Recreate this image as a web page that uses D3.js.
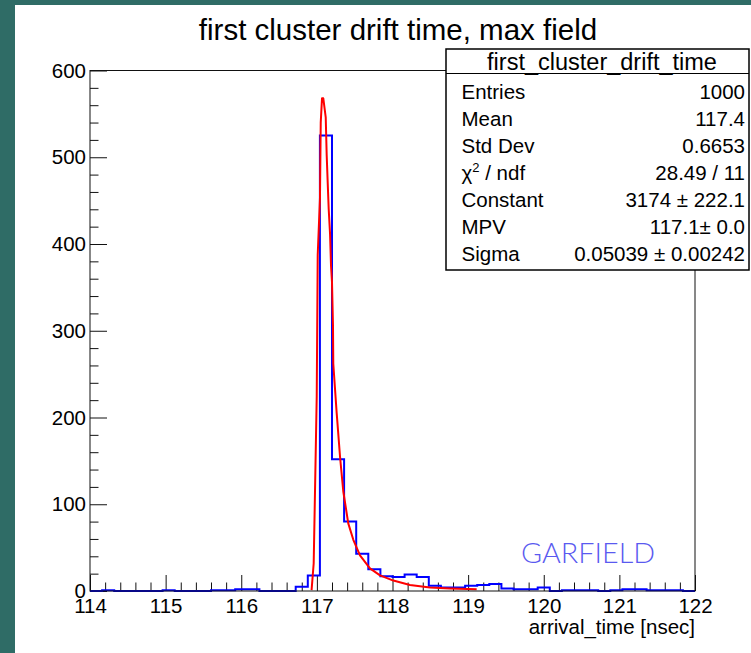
<!DOCTYPE html>
<html>
<head>
<meta charset="utf-8">
<script src="https://cdn.jsdelivr.net/npm/d3@7"></script>
<style>
  html, body { margin: 0; padding: 0; background: #2f6c66; }
  svg { display: block; }
</style>
</head>
<body>
<svg id="chart" width="751" height="653"></svg>
<script>
// ---------- data ----------
const title = "first cluster drift time, max field";
const xTitle = "arrival_time [nsec]";
const xDomain = [114, 122];
const yDomain = [0, 600];
const xMajorTicks = [114, 115, 116, 117, 118, 119, 120, 121, 122];
const yMajorTicks = [0, 100, 200, 300, 400, 500, 600];
// histogram bin contents (50 bins, 114 -> 122)
const counts = [
  0, 1, 0, 0, 0, 0, 1, 0, 0, 0,
  1, 1, 2, 2, 0, 0, 0, 5, 18, 525,
  152, 80, 43, 25, 17, 16, 19, 16, 6, 4,
  4, 6, 7, 8, 3, 2, 2, 4, 0, 1,
  1, 1, 0, 1, 2, 2, 1, 1, 1, 0
];
// fitted curve
const fitX = [116.93, 116.958, 116.998, 117.011, 117.041, 117.051, 117.068, 117.085, 117.117, 117.130,
  117.143, 117.156, 117.174, 117.187, 117.200, 117.213, 117.217, 117.262, 117.306, 117.349,
  117.415, 117.482, 117.570, 117.702, 117.835, 118.011, 118.231, 118.496, 118.760, 119.113];
const fitY = [1, 32, 224, 387, 453, 540, 568, 568, 546, 502,
  471, 441, 412, 375, 356, 306, 262, 205, 155, 115,
  78, 59, 41, 26, 18, 12, 7, 4, 3, 2];
const statsTitle = "first_cluster_drift_time";
const statsLabels = ["Entries", "Mean", "Std Dev", "CHI2", "Constant", "MPV", "Sigma"];
const statsValues = ["1000", "117.4", "0.6653", "28.49 / 11", "3174 \u00b1 222.1", "117.1\u00b1 0.0", "0.05039 \u00b1 0.00242"];
const watermark = "GARFIELD";

// ---------- layout ----------
const svg = d3.select("#chart");
const font = "'Liberation Sans', Arial, Helvetica, sans-serif";
const frame = { left: 90, right: 695, top: 70.5, bottom: 591 };

svg.append("rect").attr("x", 15).attr("y", 5).attr("width", 736).attr("height", 648).attr("fill", "#ffffff");

const x = d3.scaleLinear().domain(xDomain).range([frame.left, frame.right]);
const y = d3.scaleLinear().domain(yDomain).range([frame.bottom, frame.top]);

// title
svg.append("text").attr("x", 398).attr("y", 40).attr("text-anchor", "middle")
  .attr("font-family", font).attr("font-size", 29.5).attr("fill", "#000").text(title);

// clip
svg.append("clipPath").attr("id", "clip").append("rect")
  .attr("x", frame.left).attr("y", frame.top - 2).attr("width", frame.right - frame.left).attr("height", frame.bottom - frame.top + 3);

// minor ticks
const yMinor = d3.range(yDomain[0], yDomain[1] + 0.001, 20).filter(v => v % 100 !== 0);
const xMinor = d3.range(0, 41).map(i => xDomain[0] + i * 0.2).filter(v => Math.abs(v - Math.round(v)) > 1e-6);

const yAxisMinor = d3.axisLeft(y).tickValues(yMinor).tickSizeInner(-8.5).tickSizeOuter(0).tickFormat("");
const yAxis = d3.axisLeft(y).tickValues(yMajorTicks).tickSizeInner(-17).tickSizeOuter(0).tickPadding(4).tickFormat(d3.format("d"));
const xAxisMinor = d3.axisBottom(x).tickValues(xMinor).tickSizeInner(-8.5).tickSizeOuter(0).tickFormat("");
const xAxis = d3.axisBottom(x).tickValues(xMajorTicks).tickSizeInner(-16).tickSizeOuter(0).tickPadding(7).tickFormat(d3.format("d"));

function styleAxis(g, fs) {
  g.select(".domain").remove();
  g.selectAll("line").attr("stroke", "#111").attr("stroke-width", 1);
  g.selectAll("text").attr("font-family", font).attr("font-size", fs).attr("fill", "#000");
}
svg.append("g").attr("transform", `translate(${frame.left},0)`).call(yAxisMinor).call(g => styleAxis(g, 20.5));
svg.append("g").attr("transform", `translate(${frame.left},0)`).call(yAxis).call(g => styleAxis(g, 20.5));
svg.append("g").attr("transform", `translate(0,${frame.bottom})`).call(xAxisMinor).call(g => styleAxis(g, 20.5));
svg.append("g").attr("transform", `translate(0,${frame.bottom})`).call(xAxis).call(g => styleAxis(g, 20.5));

// x title
svg.append("text").attr("x", frame.right).attr("y", 634).attr("text-anchor", "end")
  .attr("font-family", font).attr("font-size", 20.5).attr("fill", "#000").text(xTitle);

// histogram
const w = (xDomain[1] - xDomain[0]) / counts.length;
const pts = counts.map((c, i) => [xDomain[0] + i * w, c]);
pts.push([xDomain[1], counts[counts.length - 1]]);
const step = d3.line().x(d => x(d[0])).y(d => y(d[1])).curve(d3.curveStepAfter);
svg.append("path").attr("clip-path", "url(#clip)").attr("d", step(pts))
  .attr("fill", "none").attr("stroke", "#0000ff").attr("stroke-width", 2);

// fit curve
const fitPts = fitX.map((v, i) => [v, fitY[i]]);
const line = d3.line().x(d => x(d[0])).y(d => y(d[1]));
svg.append("path").attr("clip-path", "url(#clip)").attr("d", line(fitPts))
  .attr("fill", "none").attr("stroke", "#ff0000").attr("stroke-width", 2).attr("stroke-linejoin", "round");

// frame
svg.append("rect").attr("x", frame.left).attr("y", frame.top)
  .attr("width", frame.right - frame.left).attr("height", frame.bottom - frame.top)
  .attr("fill", "none").attr("stroke", "#111").attr("stroke-width", 1);

// watermark
svg.append("text").attr("x", 521).attr("y", 563).attr("font-family", "Lato, 'Liberation Sans', sans-serif")
  .attr("font-weight", 300).attr("font-size", 28).attr("fill", "#5a5af0")
  .attr("textLength", 134).attr("lengthAdjust", "spacingAndGlyphs").text(watermark);

// stats box
const sb = { x: 446, y: 49, w: 303, h: 221, header: 73.5 };
const stats = svg.append("g");
stats.append("rect").attr("x", sb.x).attr("y", sb.y).attr("width", sb.w).attr("height", sb.h)
  .attr("fill", "#fff").attr("stroke", "#000").attr("stroke-width", 1.5);
stats.append("line").attr("x1", sb.x).attr("x2", sb.x + sb.w).attr("y1", sb.header).attr("y2", sb.header)
  .attr("stroke", "#000").attr("stroke-width", 1.2);
stats.append("text").attr("x", 602).attr("y", 70).attr("text-anchor", "middle")
  .attr("font-family", font).attr("font-size", 23.5).attr("fill", "#000").text(statsTitle);
statsLabels.forEach((lab, i) => {
  const by = 98.5 + i * 27.1;
  const t = stats.append("text").attr("x", 461.5).attr("y", by)
    .attr("font-family", font).attr("font-size", 20.5).attr("fill", "#000");
  if (lab === "CHI2") {
    t.append("tspan").text("\u03c7");
    t.append("tspan").attr("font-size", 13).attr("dy", -8).text("2");
    t.append("tspan").attr("dy", 8).text(" / ndf");
  } else {
    t.text(lab);
  }
  stats.append("text").attr("x", 745).attr("y", by).attr("text-anchor", "end")
    .attr("font-family", font).attr("font-size", 20.5).attr("fill", "#000").text(statsValues[i]);
});
</script>
</body>
</html>
